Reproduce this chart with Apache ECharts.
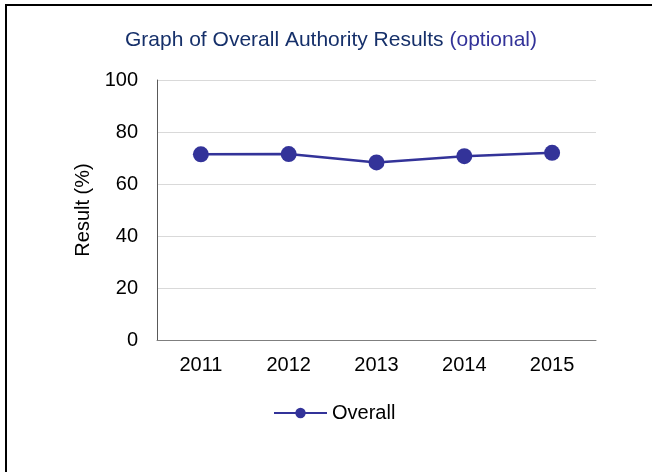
<!DOCTYPE html>
<html>
<head>
<meta charset="utf-8">
<script src="https://cdn.jsdelivr.net/npm/echarts@6/dist/echarts.min.js"></script>
<style>
html,body{margin:0;padding:0;background:#fff;}
#chart{width:652px;height:472px;}
</style>
</head>
<body>
<div id="chart"></div>
<script>
var categories = ['2011', '2012', '2013', '2014', '2015'];
var overall = [71.4, 71.5, 68.3, 70.7, 72.0];
var yTicks = [0, 20, 40, 60, 80, 100];
var seriesName = 'Overall';

var chart = echarts.init(document.getElementById('chart'), null, {renderer: 'canvas'});
var font = '"Liberation Sans", Arial, sans-serif';
chart.setOption({
  backgroundColor: '#ffffff',
  animation: false,
  title: {
    text: '{a|Graph of Overall Authority Results }{b|(optional)}',
    left: 331,
    top: 30,
    padding: 0,
    textAlign: 'center',
    textStyle: {
      fontWeight: 'normal',
      rich: {
        a: {color: '#16306a', fontSize: 21, fontWeight: 'normal', fontFamily: font},
        b: {color: '#333399', fontSize: 21, fontWeight: 'normal', fontFamily: font}
      }
    }
  },
  legend: {
    data: [seriesName],
    left: 273,
    top: 403,
    padding: 0,
    itemWidth: 53,
    itemHeight: 13,
    textStyle: {color: '#000', fontSize: 20, fontFamily: font}
  },
  grid: {left: 157, right: 56, top: 80, bottom: 132, containLabel: false},
  xAxis: {
    type: 'category',
    data: categories,
    boundaryGap: true,
    axisLine: {lineStyle: {color: '#7f7f7f', width: 1}},
    axisTick: {show: false},
    axisLabel: {color: '#000', fontSize: 20, fontFamily: font, margin: 15}
  },
  yAxis: {
    type: 'value',
    min: yTicks[0],
    max: yTicks[yTicks.length - 1],
    interval: 20,
    name: 'Result (%)',
    nameLocation: 'middle',
    nameGap: 55,
    nameTextStyle: {color: '#000', fontSize: 20, fontFamily: font},
    axisLine: {show: true, lineStyle: {color: '#595959', width: 1}},
    axisTick: {show: false},
    splitLine: {lineStyle: {color: '#d9d9d9', width: 1}},
    axisLabel: {color: '#000', fontSize: 20, fontFamily: font, margin: 19}
  },
  series: [{
    name: seriesName,
    type: 'line',
    data: overall,
    symbol: 'circle',
    symbolSize: 16,
    lineStyle: {color: '#333399', width: 2.5},
    itemStyle: {color: '#333399'}
  }],
  graphic: [
    {type: 'rect', shape: {x: 5, y: 4, width: 2, height: 468}, style: {fill: '#000'}},
    {type: 'rect', shape: {x: 5, y: 4, width: 647, height: 2}, style: {fill: '#000'}}
  ]
});
</script>
</body>
</html>
